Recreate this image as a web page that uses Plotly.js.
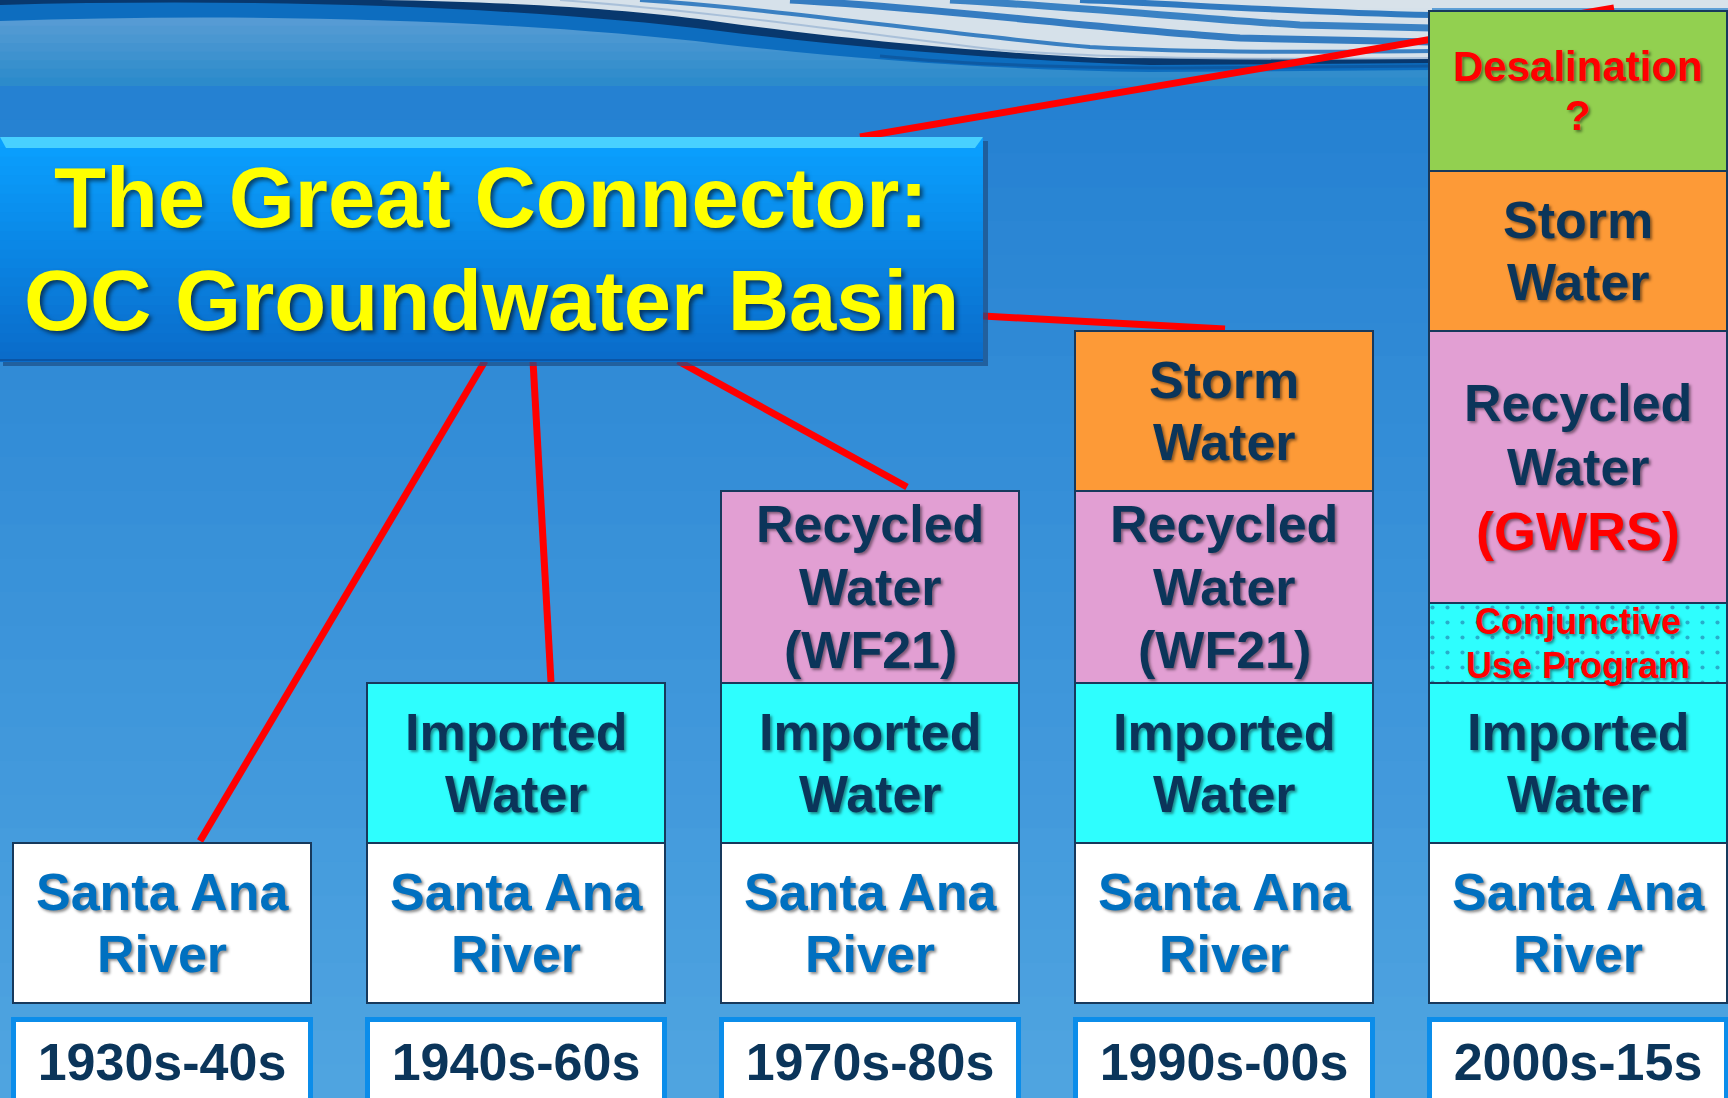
<!DOCTYPE html>
<html>
<head>
<meta charset="utf-8">
<script src="https://cdn.plot.ly/plotly-3.0.1.min.js"></script>
<style>html,body{margin:0;padding:0;overflow:hidden;background:#2E88D5}</style>
</head>
<body>
<div id="chart" style="width:1728px;height:1098px"></div>
<script>
// ---------------- DATA ----------------
const eras = ['1930s-40s', '1940s-60s', '1970s-80s', '1990s-00s', '2000s-15s'];
// relative size of each supply block in each era (stack order bottom -> top)
const santaAna     = [1, 1, 1, 1, 1];
const imported     = [null, 1, 1, 1, 1];
const conjunctive  = [null, null, null, null, 0.5];
const recycledWF21 = [null, null, 1.2, 1.2, null];
const recycledGWRS = [null, null, null, null, 1.7];
const storm        = [null, null, null, 1, 1];
const desal        = [null, null, null, null, 1];

const saLines     = ['Santa Ana', 'River'];
const impLines    = ['Imported', 'Water'];
const conjLines   = ['Conjunctive', 'Use Program'];
const wf21Lines   = ['Recycled', 'Water', '(WF21)'];
const gwrsLines   = ['Recycled', 'Water', '(GWRS)'];
const stormLines  = ['Storm', 'Water'];
const desalLines  = ['Desalination', '?'];
const titleLines  = ['The Great Connector:', 'OC Groundwater Basin'];

// ---------------- STYLE ----------------
const W = 1728, H = 1098;
const FONT = 'Liberation Sans, Arial, Helvetica, sans-serif';
const NAVY = '#0B355A', RED = '#FF0000', SA_BLUE = '#0070C0';
const SHADOW = '2px 2px 3px rgba(0,0,0,0.45)';
const colPitch = 354, firstCenter = 162, barPx = 298;
const basePx = 1003, unitPx = 160;

const series = [
  {name: 'Santa Ana River', values: santaAna, color: '#FFFFFF', lines: saLines, tc: [SA_BLUE, SA_BLUE], size: [52, 52], gap: 62},
  {name: 'Imported Water', values: imported, color: '#2EFEFE', lines: impLines, tc: [NAVY, NAVY], size: [52, 52], gap: 62},
  {name: 'Conjunctive Use Program', values: conjunctive, color: '#2EFEFE', pattern: true, lines: conjLines, tc: [RED, RED], size: [36, 36], gap: 44},
  {name: 'Recycled Water (WF21)', values: recycledWF21, color: '#E29FD3', lines: wf21Lines, tc: [NAVY, NAVY, NAVY], size: [52, 52, 52], gap: 63},
  {name: 'Recycled Water (GWRS)', values: recycledGWRS, color: '#E29FD3', lines: gwrsLines, tc: [NAVY, NAVY, RED], size: [52, 52, 54], gap: 64},
  {name: 'Storm Water', values: storm, color: '#FD9A37', lines: stormLines, tc: [NAVY, NAVY], size: [52, 52], gap: 62},
  {name: 'Desalination', values: desal, color: '#92D050', lines: desalLines, tc: [RED, RED], size: [42, 42], gap: 49}
];

const traces = series.map(s => ({
  type: 'bar', name: s.name, x: eras, y: s.values,
  width: barPx / colPitch,
  marker: Object.assign({color: s.color, line: {color: '#17395C', width: 2}},
    s.pattern ? {pattern: {shape: '.', fgcolor: '#1F5C98', bgcolor: s.color, fillmode: 'overlay', size: 15, solidity: 0.06}} : {}),
  hoverinfo: 'skip'
}));

// ---------- annotations: block texts ----------
const annotations = [];
eras.forEach((era, i) => {
  let base = 0;
  series.forEach(s => {
    const v = s.values[i];
    if (v == null) return;
    const c = base + v / 2;
    const n = s.lines.length;
    s.lines.forEach((ln, k) => {
      const off = (k - (n - 1) / 2) * s.gap / unitPx;
      annotations.push({
        x: era, y: c - off, xref: 'x', yref: 'y', text: ln, showarrow: false,
        xanchor: 'center', yanchor: 'middle',
        font: {family: FONT, size: s.size[k], color: s.tc[k], weight: 700, shadow: SHADOW}
      });
    });
    base += v;
  });
  // era label box
  annotations.push({
    x: era, y: -14 / unitPx, xref: 'x', yref: 'y', text: era, showarrow: false,
    xanchor: 'center', yanchor: 'top', width: 292, height: 80, valign: 'middle',
    bgcolor: '#FFFFFF', bordercolor: '#0B8DEA', borderwidth: 5, borderpad: 0,
    font: {family: FONT, size: 52, color: NAVY, weight: 700}
  });
});

// title texts
const titleY = [197, 300];
titleLines.forEach((t, k) => {
  annotations.push({
    x: 491 / W, y: 1 - titleY[k] / H, xref: 'paper', yref: 'paper', text: t, showarrow: false,
    xanchor: 'center', yanchor: 'middle',
    font: {family: FONT, size: 85, color: '#FFFF00', weight: 700, shadow: '3px 3px 4px rgba(0,0,0,0.55)'}
  });
});

// ---------- decoration shapes (pixel helpers) ----------
const PX = x => x / W, PY = y => 1 - y / H;
function pth(cmds) {
  return cmds.map(c => c[0] + c.slice(1).map((v, j) => j % 2 === 0 ? PX(v).toFixed(5) : PY(v).toFixed(5)).join(' ')).join(' ');
}
function hex(c) { return [1, 3, 5].map(i => parseInt(c.substr(i, 2), 16)); }
function mix(a, b, t) {
  const A = hex(a), B = hex(b);
  return 'rgb(' + A.map((v, i) => Math.round(v + (B[i] - v) * t)).join(',') + ')';
}
const shapes = [];
function rectPx(x0, y0, x1, y1, fill, extra) {
  shapes.push(Object.assign({type: 'rect', xref: 'paper', yref: 'paper', x0: PX(x0), x1: PX(x1), y0: PY(y1), y1: PY(y0),
    fillcolor: fill, line: {width: 0}, layer: 'below'}, extra || {}));
}
function bands(y0, y1, c0, c1, n, x0, x1) {
  const h = (y1 - y0) / n;
  for (let k = 0; k < n; k++) {
    rectPx(x0, y0 + k * h, x1, y0 + (k + 1) * h + 1, mix(c0, c1, k / (n - 1)));
  }
}
// background
bands(0, 86, '#62A0D6', '#2C8BCB', 10, 0, W);
bands(86, H, '#2581D2', '#4FA4E0', 30, 0, W);
// waves at top
function pathShape(cmds, fill, lineColor, lineWidth, opacity) {
  shapes.push({type: 'path', xref: 'paper', yref: 'paper', path: pth(cmds), fillcolor: fill || 'rgba(0,0,0,0)',
    line: {color: lineColor || 'rgba(0,0,0,0)', width: lineWidth || 0}, layer: 'below', opacity: opacity == null ? 1 : opacity});
}
// mid-blue band
pathShape([['M', 0, 0], ['L', 0, 21], ['C', 250, 12, 520, 20, 720, 44], ['C', 860, 60, 1000, 70, 1150, 72], ['L', 1432, 70], ['L', 1432, 0], ['Z']], '#0D6DBF');
// navy band
pathShape([['M', 0, 0], ['L', 0, 5], ['C', 250, -2, 520, 6, 720, 31], ['C', 850, 47, 1000, 60, 1150, 65], ['L', 1432, 63], ['L', 1432, 0], ['Z']], '#08386E');
// white swoosh
pathShape([['M', 380, 0], ['C', 520, 2, 640, 10, 720, 22], ['C', 830, 37, 950, 50, 1100, 58], ['L', 1432, 59], ['L', 1432, 0], ['Z']], '#D6E1EA');
// top-right light strip above the last column
rectPx(1200, 0, W, 8, '#D8E2EA');
// blue streaks within the swoosh
pathShape([['M', 640, 0], ['C', 790, 10, 940, 34, 1090, 47], ['C', 1200, 53, 1320, 52, 1432, 51]], null, '#2A76BE', 4, 0.9);
pathShape([['M', 790, 0], ['C', 940, 8, 1090, 28, 1240, 38], ['L', 1432, 42]], null, '#2472BD', 7, 0.9);
pathShape([['M', 950, 0], ['C', 1080, 7, 1200, 19, 1300, 25], ['L', 1432, 28]], null, '#2A78C0', 7, 0.9);
pathShape([['M', 1080, 0], ['C', 1180, 4, 1290, 12, 1432, 15]], null, '#1F6FBC', 6, 0.9);
pathShape([['M', 560, 0], ['C', 720, 12, 880, 36, 1000, 50], ['C', 1100, 58, 1250, 60, 1432, 58]], null, '#9FB9D6', 2, 0.8);
// faint dark fringe below the streaks
pathShape([['M', 880, 56], ['C', 960, 64, 1060, 68, 1180, 68], ['L', 1432, 66]], null, '#0E4E92', 3, 0.6);

// red connector lines (below blocks)
[[860, 137, 1614, 8], [983, 316, 1225, 329], [678, 361, 907, 487], [533, 361, 551, 682], [485, 361, 200, 841]]
  .forEach(l => shapes.push({type: 'line', xref: 'paper', yref: 'paper', x0: PX(l[0]), y0: PY(l[1]), x1: PX(l[2]), y1: PY(l[3]),
    line: {color: '#FF0000', width: 7}, layer: 'below'}));

// title box
rectPx(3, 141, 988, 366, '#1B4E86', {opacity: 0.7});
bands(138, 361, '#0AA0FF', '#0A6CCA', 24, 0, 983);
pathShape([['M', 0, 137], ['L', 983, 137], ['L', 975, 148], ['L', 6, 148], ['Z']], '#48D0FF');
shapes.push({type: 'line', xref: 'paper', yref: 'paper', x0: PX(0), x1: PX(983), y0: PY(360), y1: PY(360),
  line: {color: '#0A55A6', width: 2}, layer: 'below'});

const layout = {
  width: W, height: H, margin: {l: 0, r: 0, t: 0, b: 0, pad: 0},
  paper_bgcolor: '#2E88D5', plot_bgcolor: 'rgba(0,0,0,0)',
  barmode: 'stack', showlegend: false, hovermode: false,
  xaxis: {type: 'category', range: [-firstCenter / colPitch, (W - firstCenter) / colPitch], visible: false, fixedrange: true},
  yaxis: {range: [-(H - basePx) / unitPx, basePx / unitPx], visible: false, fixedrange: true},
  shapes: shapes, annotations: annotations
};

Plotly.newPlot('chart', traces, layout, {staticPlot: true, displayModeBar: false});
</script>
</body>
</html>
